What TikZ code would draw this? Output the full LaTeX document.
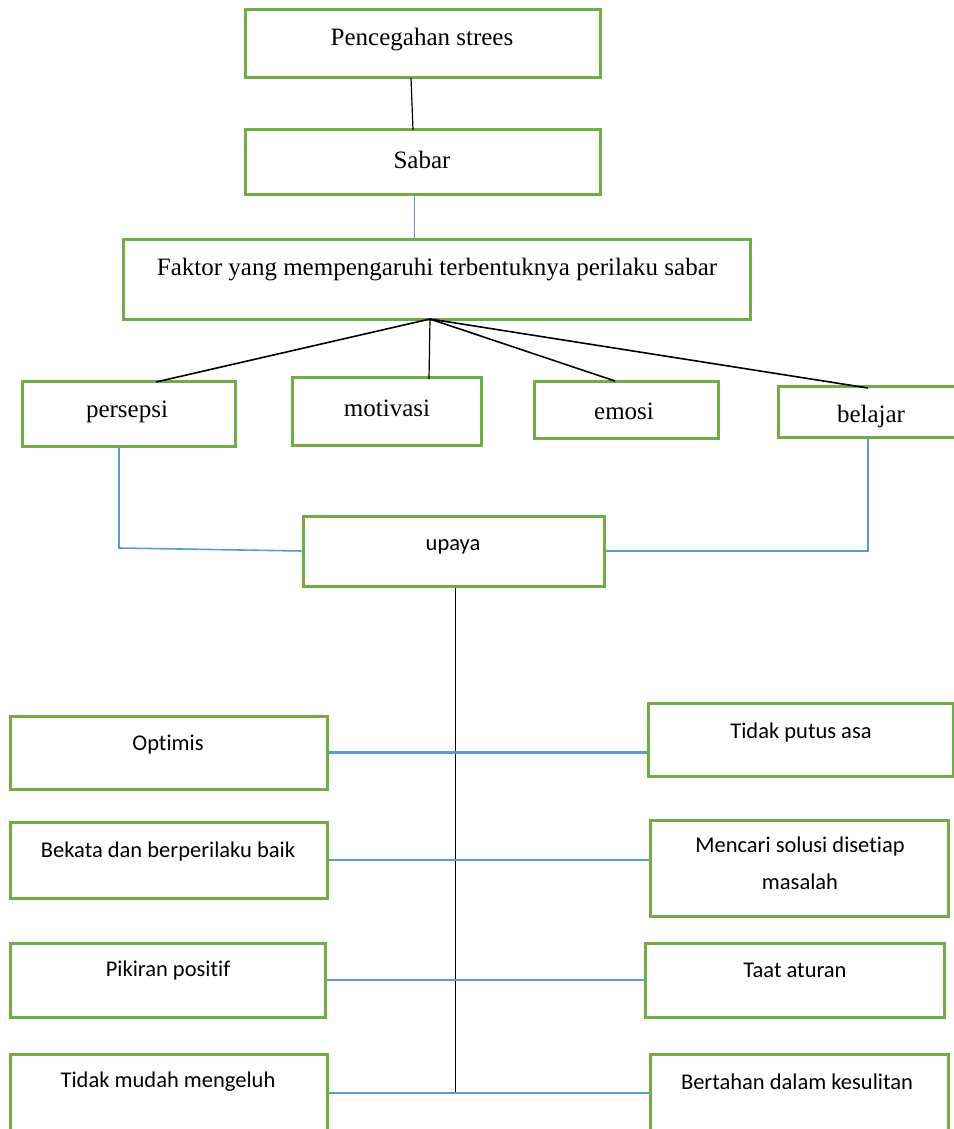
\documentclass[tikz,border=0pt]{standalone}
\usepackage{fontspec}
\setmainfont{Liberation Serif}
\newfontfamily\calib[Ligatures={NoCommon}]{Carlito}
\begin{document}
\begin{tikzpicture}[x=1pt,y=-1pt,
  box/.style={draw=boxgreen,line width=3pt,rectangle,inner sep=0pt},
  serif/.style={font=\fontsize{25}{30}\selectfont,inner sep=0pt},
  sans/.style={font=\calib\fontsize{22.5}{37}\selectfont,inner sep=0pt,align=center},
  blk/.style={draw=black,line width=1.2pt},
  blu/.style={draw=lineblue,line width=1.6pt},
  blul/.style={draw=lineblue,line width=2.2pt}]
\definecolor{boxgreen}{HTML}{70AD47}
\definecolor{lineblue}{HTML}{5B9BD5}
\useasboundingbox[fill=white] (0,0) rectangle (953,1129);
% boxes
\node[box,minimum width=355pt,minimum height=68pt] (pc) at (422.5,44) {};
\node[box,minimum width=355pt,minimum height=64pt] (sb) at (422.5,162) {};
\node[box,minimum width=627pt,minimum height=80pt] (fk) at (436.5,279) {};
\node[box,minimum width=213pt,minimum height=65pt] (pe) at (128.5,413.5) {};
\node[box,minimum width=189pt,minimum height=68pt] (mo) at (386.5,411) {};
\node[box,minimum width=184pt,minimum height=57pt] (em) at (626,409.5) {};
\node[box,minimum width=182pt,minimum height=51pt] (bl) at (869,411.5) {};
\node[box,minimum width=301pt,minimum height=70pt] (up) at (453.5,551) {};
\node[box,minimum width=317pt,minimum height=73pt] (op) at (168.5,752.5) {};
\node[box,minimum width=305pt,minimum height=73pt] (tp) at (800.5,739.5) {};
\node[box,minimum width=317pt,minimum height=76pt] (bk) at (168.5,860) {};
\node[box,minimum width=298pt,minimum height=96pt] (mc) at (799,868) {};
\node[box,minimum width=315pt,minimum height=74pt] (pk) at (167.5,980) {};
\node[box,minimum width=299pt,minimum height=74pt] (ta) at (794.5,980) {};
\node[box,minimum width=317pt,minimum height=78pt] (tm) at (168.5,1093) {};
\node[box,minimum width=298pt,minimum height=78pt] (bt) at (799,1093) {};
% texts
\node[serif] (tpc) at (422,40) {Pencegahan strees};
\node[serif] (tsb) at (422,160) {Sabar};
\node[serif] (tfk) at (437,270) {Faktor yang mempengaruhi terbentuknya perilaku sabar};
\node[serif] (tpe) at (127,412) {persepsi};
\node[serif] (tmo) at (387,408) {motivasi};
\node[serif] (tem) at (624,411) {emosi};
\node[serif] (tbl) at (871,416) {belajar};
\node[sans] (tup) at (453,547) {upaya};
\node[sans] (top) at (168,745) {Optimis};
\node[sans] (ttp) at (801,732) {Tidak putus asa};
\node[sans] (tbk) at (168,851) {Bekata dan berperilaku baik};
\node[sans] (tmc) at (800,863) {Mencari solusi disetiap\\masalah};
\node[sans] (tpk) at (168,970) {Pikiran positif};
\node[sans] (tta) at (795,970) {Taat aturan};
\node[sans] (ttm) at (168,1082) {Tidak mudah mengeluh};
\node[sans] (tbt) at (797,1082) {Bertahan dalam kesulitan};
% connectors
\coordinate (pcb) at (411,78);
\coordinate (sbt) at (413,130);
\draw[blk] (pcb) -- (sbt);
\coordinate (sbb) at (414,194);
\coordinate (fkt) at (414,239);
\draw[blu,line width=1pt] (sbb) -- (fkt);
\coordinate (fkb) at (430,319);
\coordinate (pet) at (156,382);
\coordinate (mot) at (429,379);
\coordinate (emt) at (615,381);
\coordinate (blt) at (868,388);
\draw[blk,line width=1.6pt] (fkb) -- (pet);
\draw[blk] (fkb) -- (mot);
\draw[blk,line width=1.6pt] (fkb) -- (emt);
\draw[blk,line width=1.6pt] (fkb) -- (blt);
\coordinate (peb) at (119,447);
\coordinate (pec) at (119,548);
\draw[blu] (peb) -- (pec) -- (up.west);
\coordinate (blb) at (868,438);
\draw[blu] (blb) |- (up.east);
\coordinate (cend) at (455,1092);
\draw[blk,line width=1pt] (up.south) ++(1.5,0) coordinate (ups) -- (cend);
\draw[blul] (op.east) -- (op.east -| tp.west);
\draw[blul] (bk.east) -- (bk.east -| mc.west);
\draw[blul] (pk.east) -- (pk.east -| ta.west);
\draw[blul] (tm.east) -- (tm.east -| bt.west);
\end{tikzpicture}
\end{document}
